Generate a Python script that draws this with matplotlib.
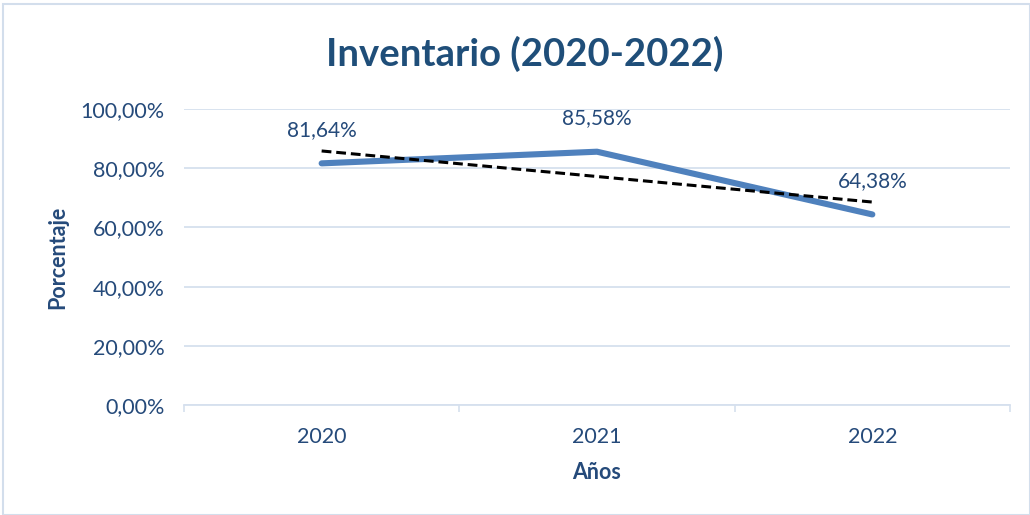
import matplotlib
matplotlib.use("Agg")
import matplotlib.pyplot as plt
import numpy as np
from matplotlib.patches import Rectangle

years = ["2020", "2021", "2022"]
values = [81.64, 85.58, 64.38]
labels = ["81,64%", "85,58%", "64,38%"]
yticks = [0, 20, 40, 60, 80, 100]
ytick_labels = ["0,00%", "20,00%", "40,00%", "60,00%", "80,00%", "100,00%"]

plt.rcParams['font.family'] = ['Lato', 'DejaVu Sans']
txt = '#254A7A'
title_c = '#1F4E79'
grid_c = '#D6E0EE'

fig = plt.figure(figsize=(10.30, 5.15), dpi=100)
fig.patches.append(Rectangle((0.003, 0.0), 0.997, 0.993, transform=fig.transFigure,
                             fill=False, edgecolor='#D3DEEC', linewidth=1.5))
ax = fig.add_axes([0.1786, 0.2136, 0.8020, 0.5747])

x = np.arange(len(years))
ax.plot(x, values, color='#4F81BD', linewidth=4.4, solid_capstyle='round',
        solid_joinstyle='round', zorder=3)
coef = np.polyfit(x, values, 1)
ax.plot(x, np.polyval(coef, x), color='black', linewidth=2.2, linestyle=(0, (3.2, 1.6)), zorder=4)

for xi, v, lab in zip(x, values, labels):
    ax.annotate(lab, (xi, v), xytext=(0, 17), textcoords='offset points',
                ha='center', va='bottom', fontsize=15, color=txt)

ax.set_xlim(-0.5, 2.5)
ax.set_ylim(0, 100)
ax.set_yticks(yticks)
ax.set_yticklabels(ytick_labels, fontsize=15.5, color=txt)
ax.set_xticks(x)
ax.set_xticklabels(years, fontsize=15.5, color=txt)
ax.set_xticks([-0.5, 0.5, 1.5, 2.5], minor=True)
ax.tick_params(axis='x', which='major', length=0, pad=16)
ax.tick_params(axis='x', which='minor', length=5, color=grid_c, width=1.2)
ax.tick_params(axis='y', length=0, pad=14)
ax.grid(axis='y', color=grid_c, linewidth=1.3, zorder=0)
for s in ['top', 'right', 'left']:
    ax.spines[s].set_visible(False)
ax.spines['bottom'].set_color(grid_c)
ax.spines['bottom'].set_linewidth(1.3)

ax.set_xlabel('Años', fontsize=15.5, fontweight='bold', color=txt, labelpad=11)
ax.set_ylabel('Porcentaje', fontsize=15.5, fontweight='bold', color=txt, labelpad=9)
fig.text(0.5097, 0.895, 'Inventario (2020-2022)', ha='center', va='center',
         fontsize=27.5, fontweight='bold', color=title_c)

fig.savefig('out.png', dpi=100, facecolor='white')
